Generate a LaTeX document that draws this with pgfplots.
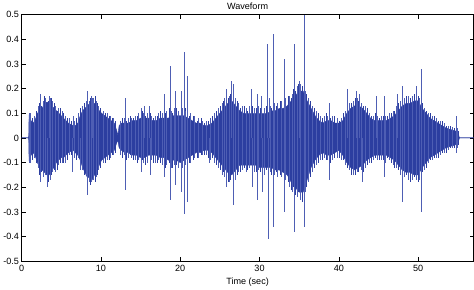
\documentclass[border=0pt]{standalone}
\usepackage{fontspec}
\setmainfont{Liberation Sans}
\usepackage{pgfplots}
\pgfplotsset{compat=1.18}
\usepackage{pgfplotstable}
\definecolor{wblue}{RGB}{44,62,160}
\definecolor{sblue}{RGB}{78,94,180}

% envelope of the waveform: t, upper, lower
\pgfplotstableread{
t up lo
0.0 0 0
0.9 0 0
0.95 0.09 -0.09
1.2 0.07 -0.07
1.5 0.06 -0.06
1.8 0.08 -0.08
2.0 0.10 -0.10
2.3 0.11 -0.12
2.6 0.12 -0.13
2.9 0.14 -0.14
3.2 0.145 -0.15
3.5 0.14 -0.15
3.8 0.13 -0.13
4.1 0.12 -0.12
4.4 0.11 -0.10
4.7 0.10 -0.09
5.0 0.09 -0.08
5.3 0.08 -0.08
5.6 0.07 -0.07
5.9 0.06 -0.06
6.2 0.055 -0.055
6.5 0.05 -0.05
6.8 0.05 -0.06
7.1 0.06 -0.07
7.4 0.09 -0.09
7.7 0.11 -0.12
8.0 0.12 -0.14
8.3 0.13 -0.16
8.6 0.14 -0.16
8.9 0.145 -0.17
9.2 0.14 -0.15
9.5 0.13 -0.14
9.8 0.11 -0.11
10.1 0.10 -0.09
10.5 0.09 -0.08
10.9 0.08 -0.07
11.3 0.07 -0.06
11.7 0.06 -0.05
12.0 0.03 -0.02
12.15 0.01 -0.01
12.3 0.05 -0.04
12.6 0.06 -0.05
13.0 0.06 -0.06
13.5 0.06 -0.06
14.0 0.07 -0.07
14.5 0.07 -0.07
15.0 0.08 -0.08
15.5 0.08 -0.08
16.0 0.08 -0.07
16.5 0.07 -0.07
17.0 0.07 -0.07
17.5 0.08 -0.08
18.0 0.08 -0.08
18.5 0.08 -0.09
19.0 0.09 -0.09
19.5 0.09 -0.09
20.0 0.09 -0.10
20.5 0.09 -0.09
21.0 0.08 -0.08
21.5 0.07 -0.07
22.0 0.06 -0.06
22.5 0.06 -0.06
23.0 0.05 -0.05
23.5 0.05 -0.05
24.0 0.06 -0.06
24.5 0.08 -0.08
25.0 0.10 -0.10
25.5 0.12 -0.12
26.0 0.14 -0.14
26.5 0.15 -0.15
27.0 0.13 -0.13
27.5 0.11 -0.11
28.0 0.10 -0.11
28.5 0.10 -0.11
29.0 0.10 -0.11
29.5 0.10 -0.11
30.0 0.10 -0.12
30.5 0.10 -0.12
31.0 0.10 -0.12
31.5 0.11 -0.12
32.0 0.11 -0.13
32.5 0.12 -0.13
33.0 0.12 -0.14
33.5 0.13 -0.15
34.0 0.15 -0.18
34.5 0.17 -0.20
35.0 0.19 -0.22
35.5 0.19 -0.22
36.0 0.15 -0.17
36.5 0.12 -0.12
37.0 0.09 -0.09
37.5 0.07 -0.07
38.0 0.06 -0.06
38.5 0.07 -0.07
39.0 0.07 -0.07
39.5 0.06 -0.06
40.0 0.06 -0.05
40.5 0.07 -0.07
41.0 0.10 -0.10
41.5 0.12 -0.12
42.0 0.13 -0.13
42.5 0.13 -0.12
43.0 0.12 -0.11
43.5 0.10 -0.09
44.0 0.08 -0.08
44.5 0.07 -0.07
45.0 0.07 -0.07
45.5 0.07 -0.07
46.0 0.07 -0.07
46.5 0.08 -0.08
47.0 0.09 -0.09
47.5 0.11 -0.11
48.0 0.13 -0.13
48.5 0.14 -0.14
49.0 0.14 -0.14
49.5 0.15 -0.15
50.0 0.15 -0.15
50.5 0.12 -0.12
51.0 0.10 -0.10
51.5 0.08 -0.08
52.0 0.07 -0.07
52.5 0.06 -0.06
53.0 0.05 -0.05
53.5 0.04 -0.04
54.0 0.035 -0.035
54.5 0.03 -0.03
55.0 0.025 -0.025
55.2 0 0
57.0 0 0
}\env

% texture peaks: t, upper, lower
\pgfplotstableread{
t up lo
1.1 0.10 -0.10
1.6 0.09 -0.08
2.1 0.13 -0.12
2.7 0.15 -0.16
3.0 0.16 -0.15
3.6 0.16 -0.17
3.9 0.15 -0.14
4.3 0.13 -0.14
4.6 0.12 -0.11
5.1 0.11 -0.10
5.5 0.09 -0.10
6.0 0.08 -0.07
6.7 0.07 -0.08
7.2 0.10 -0.08
7.6 0.13 -0.13
8.1 0.15 -0.15
8.5 0.15 -0.18
8.8 0.17 -0.18
9.1 0.16 -0.17
9.4 0.15 -0.16
9.7 0.13 -0.13
10.3 0.11 -0.10
10.8 0.10 -0.09
11.2 0.09 -0.08
11.6 0.08 -0.07
12.5 0.07 -0.07
12.9 0.08 -0.07
13.4 0.08 -0.08
13.8 0.08 -0.08
14.3 0.09 -0.09
14.7 0.10 -0.09
15.3 0.10 -0.10
15.8 0.10 -0.10
16.4 0.09 -0.09
16.8 0.09 -0.10
17.3 0.10 -0.09
17.7 0.10 -0.11
18.3 0.11 -0.11
18.9 0.11 -0.12
19.2 0.12 -0.11
19.7 0.11 -0.12
20.3 0.12 -0.12
20.7 0.11 -0.11
21.3 0.10 -0.10
21.8 0.09 -0.08
22.3 0.08 -0.08
22.8 0.07 -0.07
23.3 0.07 -0.07
23.8 0.08 -0.09
24.3 0.10 -0.10
24.8 0.12 -0.12
25.3 0.14 -0.15
25.6 0.16 -0.16
26.2 0.17 -0.18
26.9 0.16 -0.17
27.3 0.14 -0.14
27.8 0.13 -0.13
28.3 0.12 -0.14
28.7 0.13 -0.12
29.3 0.12 -0.14
29.9 0.13 -0.13
30.6 0.12 -0.15
31.3 0.13 -0.14
31.9 0.14 -0.15
32.3 0.14 -0.16
32.8 0.15 -0.16
33.3 0.16 -0.17
33.8 0.17 -0.20
34.1 0.18 -0.22
34.7 0.21 -0.24
35.2 0.22 -0.25
35.8 0.19 -0.22
36.2 0.16 -0.18
36.7 0.13 -0.14
37.2 0.11 -0.11
37.7 0.09 -0.09
38.2 0.09 -0.08
38.6 0.09 -0.09
39.2 0.09 -0.09
39.8 0.08 -0.08
40.3 0.08 -0.09
40.8 0.11 -0.11
41.3 0.14 -0.13
41.8 0.15 -0.15
42.3 0.16 -0.14
42.8 0.14 -0.13
43.3 0.13 -0.12
43.8 0.10 -0.10
44.3 0.09 -0.09
44.9 0.09 -0.09
45.3 0.09 -0.09
45.9 0.09 -0.10
46.3 0.10 -0.09
46.8 0.11 -0.11
47.3 0.13 -0.12
47.8 0.15 -0.15
48.3 0.16 -0.16
48.8 0.17 -0.17
49.3 0.17 -0.17
49.8 0.18 -0.17
50.2 0.16 -0.17
50.8 0.12 -0.13
51.3 0.10 -0.10
51.8 0.09 -0.09
52.3 0.08 -0.08
52.8 0.07 -0.07
53.3 0.06 -0.06
53.8 0.05 -0.05
54.3 0.045 -0.04
54.9 0.04 -0.04
}\texture

% finer peaks between the others: t, upper, lower
\pgfplotstableread{
t up lo
1.3 0.08 -0.09
1.85 0.11 -0.10
2.25 0.14 -0.15
2.5 0.13 -0.14
2.85 0.17 -0.14
3.35 0.15 -0.18
3.75 0.16 -0.15
4.15 0.14 -0.13
4.5 0.11 -0.13
4.85 0.12 -0.10
5.25 0.10 -0.10
5.75 0.08 -0.09
6.3 0.07 -0.07
6.95 0.08 -0.09
7.35 0.12 -0.11
7.85 0.14 -0.15
8.35 0.16 -0.17
8.65 0.16 -0.19
9.0 0.15 -0.16
9.25 0.17 -0.18
9.55 0.14 -0.15
9.95 0.12 -0.12
10.6 0.10 -0.10
11.0 0.09 -0.09
11.45 0.08 -0.07
11.85 0.07 -0.06
12.4 0.06 -0.06
12.75 0.08 -0.08
13.25 0.07 -0.09
13.65 0.09 -0.07
14.1 0.08 -0.09
14.55 0.09 -0.10
15.2 0.11 -0.09
15.65 0.09 -0.11
16.25 0.10 -0.09
16.65 0.08 -0.10
17.15 0.09 -0.10
17.55 0.11 -0.10
18.15 0.10 -0.12
18.6 0.12 -0.10
19.05 0.10 -0.12
19.55 0.12 -0.11
20.2 0.11 -0.13
20.6 0.12 -0.11
21.15 0.09 -0.10
21.6 0.09 -0.09
22.1 0.07 -0.08
22.6 0.08 -0.07
23.1 0.06 -0.07
23.6 0.07 -0.08
24.1 0.09 -0.08
24.6 0.11 -0.11
25.1 0.13 -0.13
25.45 0.15 -0.14
25.8 0.17 -0.17
26.05 0.16 -0.18
26.35 0.18 -0.17
26.65 0.17 -0.19
27.15 0.15 -0.15
27.6 0.12 -0.14
28.1 0.13 -0.12
28.5 0.11 -0.13
29.15 0.13 -0.12
29.6 0.12 -0.14
30.1 0.12 -0.14
30.8 0.13 -0.13
31.5 0.12 -0.15
32.1 0.13 -0.14
32.6 0.15 -0.15
33.1 0.14 -0.17
33.6 0.17 -0.18
33.95 0.16 -0.21
34.25 0.20 -0.20
34.5 0.19 -0.23
34.9 0.22 -0.22
35.4 0.21 -0.26
35.95 0.18 -0.20
36.4 0.15 -0.16
36.9 0.12 -0.12
37.4 0.10 -0.10
37.9 0.08 -0.09
38.4 0.10 -0.09
38.95 0.08 -0.10
39.45 0.09 -0.08
40.05 0.07 -0.08
40.55 0.10 -0.09
41.05 0.13 -0.12
41.55 0.14 -0.15
42.05 0.16 -0.15
42.5 0.15 -0.14
43.05 0.13 -0.14
43.55 0.12 -0.11
44.05 0.09 -0.10
44.6 0.10 -0.08
45.1 0.08 -0.09
45.6 0.09 -0.09
46.1 0.09 -0.08
46.55 0.10 -0.10
47.05 0.11 -0.12
47.55 0.14 -0.13
48.05 0.15 -0.16
48.55 0.17 -0.15
49.05 0.16 -0.18
49.55 0.18 -0.16
50.0 0.17 -0.18
50.55 0.14 -0.14
51.05 0.11 -0.12
51.55 0.10 -0.09
52.05 0.09 -0.08
52.55 0.07 -0.08
53.05 0.07 -0.06
53.55 0.05 -0.06
54.05 0.05 -0.04
54.6 0.04 -0.04
55.05 0.03 -0.03
}\fine

% large isolated peaks: t, value
\pgfplotstableread{
t v
0.95 0.10
0.95 -0.10
2.41 0.18
2.41 -0.18
3.25 -0.20
3.46 0.17
6.41 -0.14
6.54 0.09
7.47 -0.13
8.23 0.19
8.23 -0.23
8.95 0.16
13.08 0.16
13.08 -0.21
15.06 0.12
15.15 -0.14
15.5 0.13
16.1 0.13
16.2 -0.15
18.0 0.18
18.0 -0.16
18.73 0.29
18.73 -0.25
19.37 0.19
19.4 -0.19
20.1 0.19
20.1 -0.22
20.46 0.35
20.46 -0.31
20.9 0.25
20.9 -0.26
23.7 -0.10
25.86 0.20
25.86 -0.20
26.46 0.23
26.75 0.22
26.75 -0.27
28.99 0.20
29.07 -0.20
29.7 0.18
29.7 -0.25
30.25 0.17
30.3 -0.22
31.01 0.38
31.05 -0.41
31.2 0.16
31.69 0.42
31.69 -0.36
33.08 0.32
33.08 -0.30
34.34 0.38
34.34 -0.38
35.0 0.23
35.6 -0.36
35.65 0.50
38.77 0.14
38.77 -0.17
41.1 0.20
42.15 0.19
42.6 0.18
43.0 -0.18
44.68 0.17
45.74 0.17
45.74 -0.16
47.42 0.18
48.06 0.21
48.06 -0.26
49.75 0.21
50.42 0.28
50.42 -0.30
54.8 0.09
54.8 -0.06
}\spikes

\begin{document}
\begin{tikzpicture}
\begin{axis}[
  width=449pt, height=245pt, scale only axis,
  xmin=0, xmax=57, ymin=-0.5, ymax=0.5,
  xtick={0,10,20,30,40,50},
  ytick={-0.5,-0.4,-0.3,-0.2,-0.1,0,0.1,0.2,0.3,0.4,0.5},
  tick align=inside,
  major tick length=4pt,
  tick style={black, line width=0.4pt},
  axis line style={black, line width=0.6pt},
  /pgf/number format/assume math mode=true,
  yticklabel style={/pgf/number format/fixed, /pgf/number format/precision=1},
  every tick label/.append style={font=\fontsize{9}{10}\selectfont},
  xticklabel style={yshift=0pt},
  yticklabel style={xshift=1pt},
  title={Waveform},
  title style={font=\fontsize{9}{10}\selectfont, yshift=-5pt},
  xlabel={Time (sec)},
  xlabel style={font=\fontsize{9}{10}\selectfont, yshift=0pt},
]
\addplot[fill=wblue, draw=wblue, line width=0.4pt] table[x=t, y=up] {\env} \closedcycle;
\addplot[fill=wblue, draw=wblue, line width=0.4pt] table[x=t, y=lo] {\env} \closedcycle;
\addplot[ycomb, draw=wblue, line width=0.55pt, mark=none] table[x=t, y=up] {\fine};
\addplot[ycomb, draw=wblue, line width=0.55pt, mark=none] table[x=t, y=lo] {\fine};
\addplot[ycomb, draw=sblue, line width=0.55pt, mark=none] table[x=t, y=up] {\texture};
\addplot[ycomb, draw=sblue, line width=0.55pt, mark=none] table[x=t, y=lo] {\texture};
\addplot[ycomb, draw=sblue, line width=0.6pt, mark=none] table[x=t, y=v] {\spikes};
\end{axis}
\end{tikzpicture}
\end{document}
